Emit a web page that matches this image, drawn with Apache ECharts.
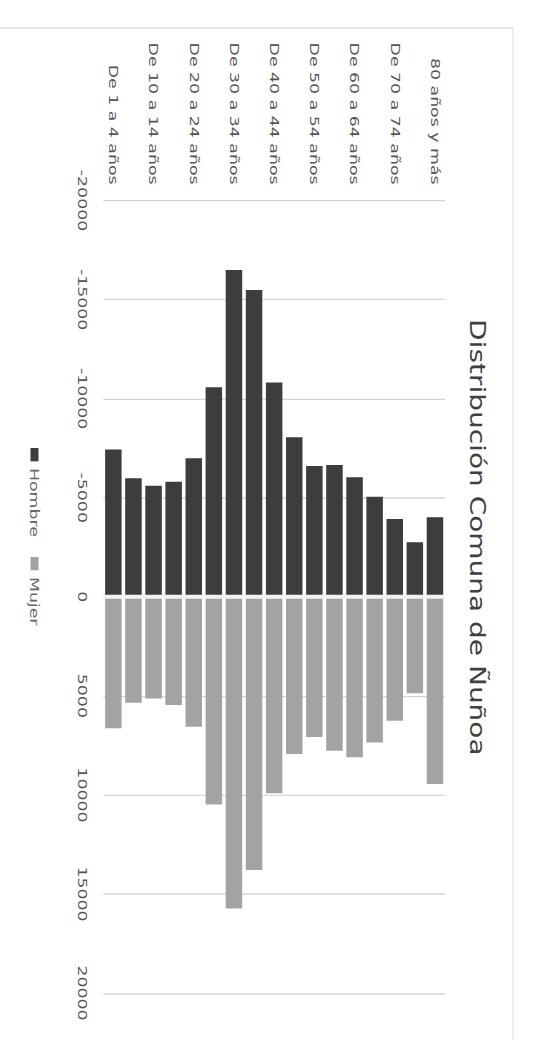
<!DOCTYPE html>
<html>
<head>
<meta charset="utf-8">
<script src="https://cdn.jsdelivr.net/npm/echarts@6/dist/echarts.min.js"></script>
<style>
  html, body { margin: 0; padding: 0; background: #ffffff; width: 540px; height: 1040px; overflow: hidden; }
  #chart {
    position: absolute; left: 0; top: 0;
    width: 780px; height: 540px;
    transform-origin: 0 0;
    transform: translate(540px, 0) rotate(90deg) scale(1.3333333, 1);
  }
</style>
</head>
<body>
<div id="chart"></div>
<script>
const titleText = 'Distribución Comuna de Ñuñoa';
const categories = [
  'De 1 a 4 años', 'De 5 a 9 años', 'De 10 a 14 años', 'De 15 a 19 años',
  'De 20 a 24 años', 'De 25 a 29 años', 'De 30 a 34 años', 'De 35 a 39 años',
  'De 40 a 44 años', 'De 45 a 49 años', 'De 50 a 54 años', 'De 55 a 59 años',
  'De 60 a 64 años', 'De 65 a 69 años', 'De 70 a 74 años', 'De 75 a 79 años',
  '80 años y más'
];
const hombre = [-7440, -5980, -5610, -5810, -6990, -10570, -16490, -15480, -10810, -8050, -6600, -6650, -6030, -5050, -3930, -2750, -4010];
const mujer = [6640, 5350, 5130, 5460, 6560, 10480, 15730, 13790, 9920, 7940, 7070, 7770, 8100, 7350, 6260, 4870, 9450];
const seriesNames = ['Hombre', 'Mujer'];
const axisMin = -20000, axisMax = 20000, axisStep = 5000;

const FONT = 'DejaVu Sans';
const chart = echarts.init(document.getElementById('chart'), null, { renderer: 'svg' });
chart.setOption({
  backgroundColor: '#ffffff',
  animation: false,
  title: {
    text: titleText,
    left: 403, top: 52, textAlign: 'center', padding: 0,
    textStyle: { fontFamily: FONT, fontSize: 21, fontWeight: 'normal', color: '#404040' }
  },
  legend: {
    data: seriesNames,
    left: 336, top: 499, padding: 0,
    icon: 'rect', itemWidth: 10, itemHeight: 8, itemGap: 15,
    textStyle: { fontFamily: FONT, fontSize: 13, color: '#666666' }
  },
  graphic: [{
    type: 'polyline', silent: true,
    shape: { points: [[21, 540], [21, 27], [800, 27]] },
    style: { stroke: '#dcdcdc', lineWidth: 1, fill: null }
  }],
  grid: { left: 150.4, right: 35.2, top: 95, bottom: 103.3, containLabel: false },
  xAxis: {
    type: 'value', min: axisMin, max: axisMax, interval: axisStep,
    axisLine: { show: false }, axisTick: { show: false },
    splitLine: { show: true, lineStyle: { color: '#d6d6d6', width: 1 } },
    axisLabel: { formatter: v => String(v), margin: 15, fontFamily: FONT, fontSize: 13, color: '#555555' }
  },
  yAxis: {
    type: 'category', data: categories,
    axisLine: { show: false, onZero: false }, axisTick: { show: false },
    axisLabel: { interval: 1, margin: 12, fontFamily: FONT, fontSize: 13, color: '#555555' }
  },
  series: [
    {
      name: seriesNames[0], type: 'bar', data: hombre,
      barWidth: 16.5, barGap: '-100%',
      itemStyle: { color: '#3d3d3d' }
    },
    {
      name: seriesNames[1], type: 'bar', data: mujer,
      barWidth: 16.5,
      itemStyle: { color: '#a3a3a3' },
      markLine: {
        silent: true, symbol: 'none', label: { show: false },
        lineStyle: { color: '#f2f2f2', width: 3, type: 'solid' },
        data: [{ xAxis: 0 }]
      }
    }
  ]
});
</script>
</body>
</html>
